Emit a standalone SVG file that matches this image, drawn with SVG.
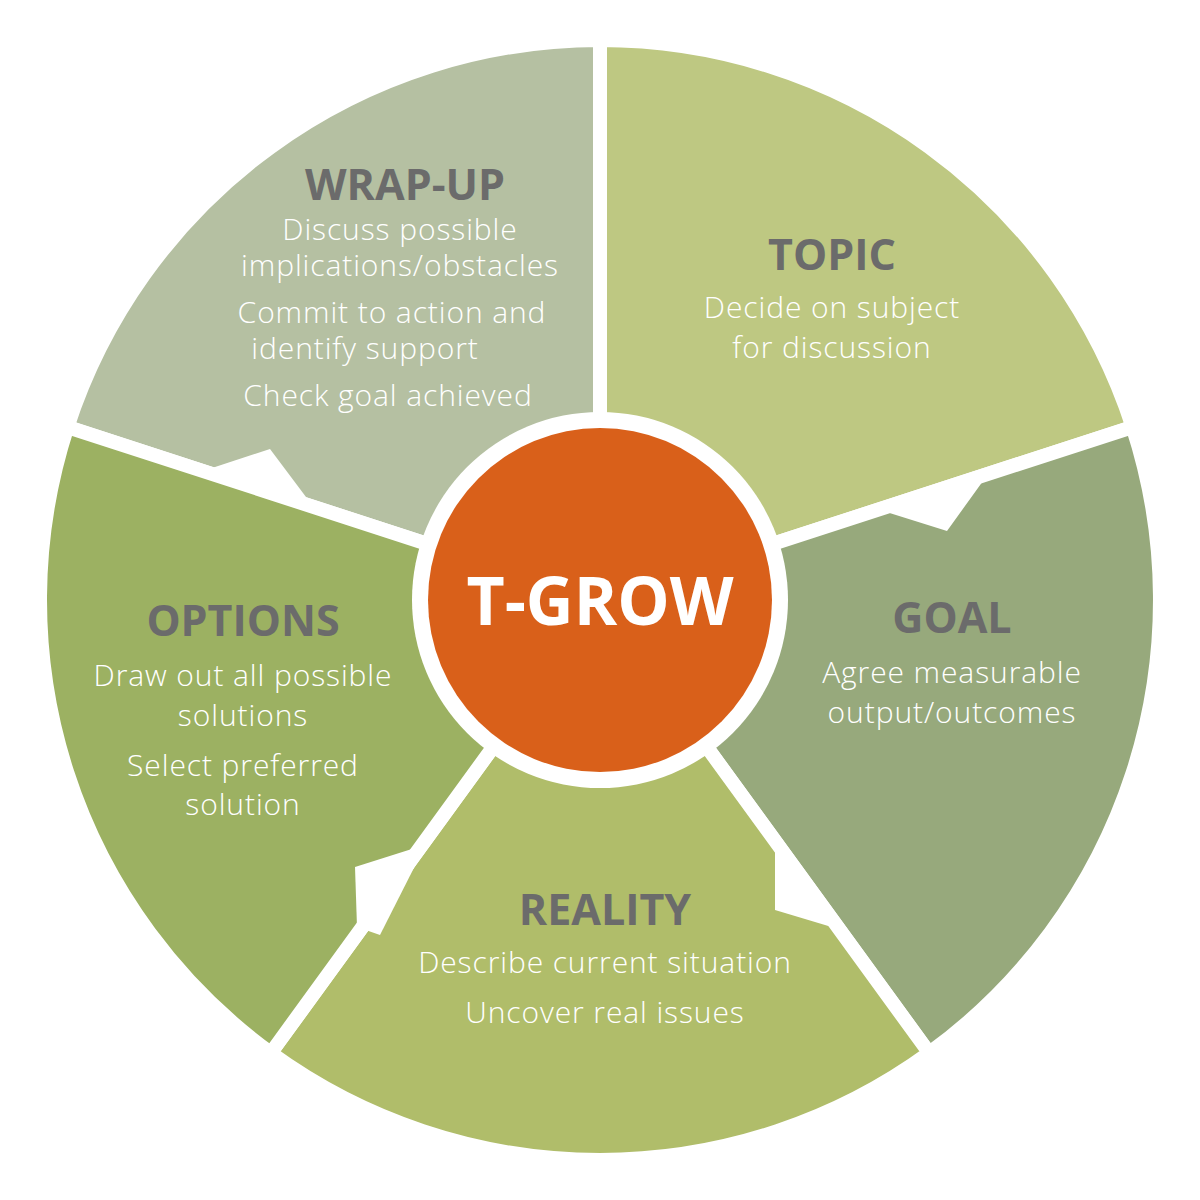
<svg xmlns="http://www.w3.org/2000/svg" width="1200" height="1200" viewBox="0 0 1200 1200">
<style>
.seg{stroke:#fff;stroke-width:14;stroke-linejoin:miter}
.t{font-family:"Open Sans","Liberation Sans",sans-serif;font-weight:bold;font-size:43px;fill:#6b6b6b;text-anchor:middle}
.b{font-family:"Open Sans","Liberation Sans",sans-serif;font-weight:300;font-size:30px;letter-spacing:0.9px;fill:#fff;text-anchor:middle}
</style>
<rect width="1200" height="1200" fill="#fff"/>
<g id="wrapup"><path class="seg" d="M600 600 L67.4 427 A560 560 0 0 1 600 40 Z" fill="#b5c0a2"/>
<text class="t" x="405" y="200">WRAP-UP</text>
<text class="b" x="400" y="240">Discuss possible</text><text class="b" x="400" y="276">implications/obstacles</text>
<text class="b" x="392" y="323">Commit to action and</text><text class="b" x="365" y="359">identify support</text>
<text class="b" x="388" y="406">Check goal achieved</text></g>
<g id="topic"><path class="seg" d="M600 600 L600 40 A560 560 0 0 1 1132.6 427 Z" fill="#bec882"/>
<text class="t" x="832" y="270">TOPIC</text>
<text class="b" x="832" y="318">Decide on subject</text><text class="b" x="832" y="358">for discussion</text></g>
<g id="goal"><path class="seg" d="M600 600 L1132.6 427 A560 560 0 0 1 929.2 1053 Z" fill="#97a97c"/>
<text class="t" x="952" y="633">GOAL</text>
<text class="b" x="952" y="683">Agree measurable</text><text class="b" x="952" y="723">output/outcomes</text></g>
<g id="reality"><path class="seg" d="M600 600 L929.2 1053 A560 560 0 0 1 270.8 1053 Z" fill="#b0bd6a"/>
<text class="t" x="605" y="925">REALITY</text>
<text class="b" x="605" y="973">Describe current situation</text><text class="b" x="605" y="1023">Uncover real issues</text></g>
<g id="options"><path class="seg" d="M600 600 L270.8 1053 A560 560 0 0 1 67.4 427 Z" fill="#9cb162"/>
<text class="t" x="243" y="636">OPTIONS</text>
<text class="b" x="243" y="686">Draw out all possible</text><text class="b" x="243" y="726">solutions</text>
<text class="b" x="243" y="776">Select preferred</text><text class="b" x="243" y="815">solution</text></g>
<g id="notches" fill="#fff">
<polygon points="212,468 270,449 306,497 300,502 212,472"/>
<polygon points="880,510 947,531 983,481 992,478 880,514"/>
<polygon points="355,867 415,848 424,848 380,935 357,927"/>
<polygon points="784,847 775,847 775,910 835,928 842,928"/>
</g>
<g id="center"><circle cx="600" cy="600" r="188" fill="#fff"/><circle cx="600" cy="600" r="172" fill="#d9601a"/>
<text x="600" y="625" font-family="'Open Sans','Liberation Sans',sans-serif" font-weight="bold" font-size="66" fill="#fff" text-anchor="middle">T-GROW</text></g>
<g id="connectors"/>
</svg>
